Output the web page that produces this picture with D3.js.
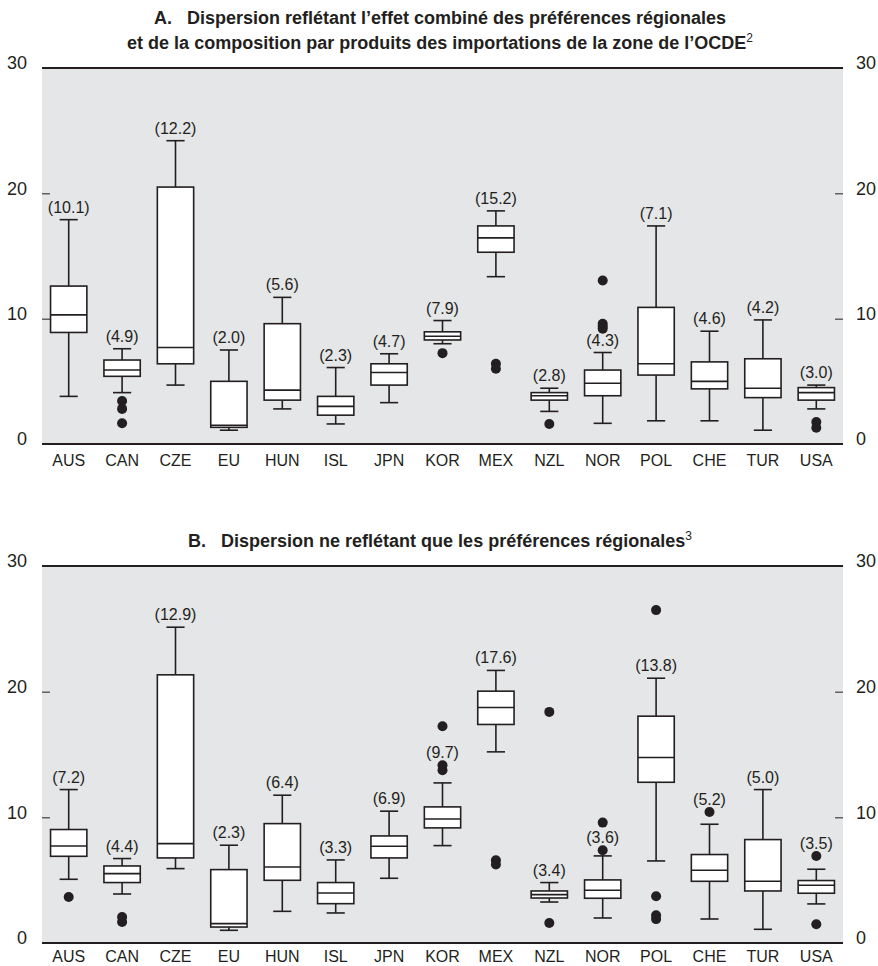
<!DOCTYPE html>
<html><head><meta charset="utf-8">
<script src="https://cdn.jsdelivr.net/npm/d3@7"></script>
<style>
body{margin:0;background:#fff;}
svg text{font-family:"Liberation Sans Narrow","Arial Narrow","Liberation Sans",Arial,sans-serif;fill:#231f20;}
</style></head><body>
<svg id="chart" width="878" height="966"></svg>
<script>
const categories = ["AUS","CAN","CZE","EU","HUN","ISL","JPN","KOR","MEX","NZL","NOR","POL","CHE","TUR","USA"];
const yTicks = [0, 10, 20, 30];

// Panel A
const titleA1 = "A.\u00a0\u00a0\u00a0Dispersion reflétant l’effet combiné des préférences régionales";
const titleA2 = "et de la composition par produits des importations de la zone de l’OCDE";
const noteA = "2";
const lowA    = [3.8, 4.1, 4.7, 1.1, 2.8, 1.6, 3.3, 8.0, 13.35, 2.6, 1.65, 1.85, 1.85, 1.1, 2.8];
const q1A     = [8.9, 5.4, 6.4, 1.33, 3.5, 2.3, 4.7, 8.3, 15.3, 3.5, 3.85, 5.5, 4.4, 3.7, 3.5];
const medianA = [10.3, 5.9, 7.7, 1.5, 4.3, 3.0, 5.7, 8.6, 16.45, 3.85, 4.85, 6.4, 5.0, 4.45, 4.1];
const q3A     = [12.6, 6.7, 20.5, 5.0, 9.6, 3.8, 6.4, 8.95, 17.4, 4.1, 5.9, 10.9, 6.55, 6.8, 4.5];
const highA   = [17.9, 7.6, 24.2, 7.5, 11.7, 6.1, 7.2, 9.85, 18.6, 4.45, 7.3, 17.4, 9.0, 9.9, 4.7];
const outliersA = [[], [3.43, 2.8, 1.65], [], [], [], [], [], [7.25], [6.4, 6.0], [1.6],
                   [13.05, 9.6, 9.4, 9.2], [], [], [], [1.75, 1.3]];
const labelsA = ["(10.1)","(4.9)","(12.2)","(2.0)","(5.6)","(2.3)","(4.7)","(7.9)","(15.2)","(2.8)","(4.3)","(7.1)","(4.6)","(4.2)","(3.0)"];

// Panel B
const titleB = "B.\u00a0\u00a0\u00a0Dispersion ne reflétant que les préférences régionales";
const noteB = "3";
const lowB    = [5.07, 3.9, 5.92, 1.01, 2.52, 2.39, 5.15, 7.75, 15.21, 3.26, 1.99, 6.53, 1.91, 1.09, 3.11];
const q1B     = [6.9, 4.81, 6.77, 1.27, 4.99, 3.13, 6.77, 9.16, 17.39, 3.58, 3.56, 12.79, 4.91, 4.14, 3.96];
const medianB = [7.72, 5.52, 7.91, 1.54, 6.05, 3.98, 7.7, 9.87, 18.74, 3.85, 4.2, 14.76, 5.79, 4.91, 4.59];
const q3B     = [9.03, 6.13, 21.34, 5.84, 9.5, 4.81, 8.52, 10.83, 20.04, 4.14, 5.02, 18.05, 7.04, 8.23, 4.97];
const highB   = [12.21, 6.72, 25.13, 7.78, 11.76, 6.61, 10.49, 12.74, 21.69, 4.81, 6.93, 21.07, 9.45, 12.21, 5.87];
const outliersB = [[3.66], [2.07, 1.67], [], [], [], [], [], [17.25, 14.15, 13.75], [6.58, 6.24], [18.39, 1.59],
                   [9.58, 7.38], [26.49, 3.72, 2.2, 1.9], [10.43], [], [6.93, 1.49]];
const labelsB = ["(7.2)","(4.4)","(12.9)","(2.3)","(6.4)","(3.3)","(6.9)","(9.7)","(17.6)","(3.4)","(3.6)","(13.8)","(5.2)","(5.0)","(3.5)"];

const ink = "#231f20";
const svg = d3.select("#chart");
const x = d3.scaleBand().domain(categories).range([42, 843]).padding(0);

function panel(cfg) {
  const y = d3.scaleLinear().domain([0, 30]).range([cfg.bottom, cfg.top]);
  const g = svg.append("g");
  g.append("rect").attr("x", 42).attr("y", cfg.top).attr("width", 801).attr("height", cfg.bottom - cfg.top).attr("fill", "#e5e6e8");

  const yl = g.append("g").attr("transform", "translate(42,0)")
    .call(d3.axisLeft(y).tickValues(yTicks).tickSize(-8).tickPadding(15).tickFormat(d3.format("d")));
  const yr = g.append("g").attr("transform", "translate(843,0)")
    .call(d3.axisRight(y).tickValues(yTicks).tickSize(-8).tickPadding(13).tickFormat(d3.format("d")));
  [yl, yr].forEach(a => {
    a.select(".domain").remove();
    a.selectAll("line").attr("stroke", ink).attr("stroke-width", 1);
    a.selectAll("text").attr("font-size", 18).attr("dy", "0.05em").attr("font-family", null);
  });

  const xa = g.append("g").attr("transform", `translate(0,${cfg.bottom})`)
    .call(d3.axisBottom(x).tickSize(0).tickPadding(cfg.catPad));
  xa.select(".domain").remove();
  xa.selectAll("text").attr("font-size", 16).attr("font-family", null);

  g.append("line").attr("x1", 42).attr("x2", 843).attr("y1", cfg.top).attr("y2", cfg.top).attr("stroke", ink).attr("stroke-width", 2);
  g.append("line").attr("x1", 42).attr("x2", 843).attr("y1", cfg.bottom).attr("y2", cfg.bottom).attr("stroke", ink).attr("stroke-width", 2);

  const bw = x.bandwidth() * 0.68, cw = x.bandwidth() * 0.34;
  const data = categories.map((c, i) => ({
    c, lo: cfg.low[i], q1: cfg.q1[i], med: cfg.median[i], q3: cfg.q3[i], hi: cfg.high[i],
    out: cfg.outliers[i], label: cfg.labels[i]
  }));
  const bx = g.selectAll(".box").data(data).join("g").attr("class", "box")
    .attr("transform", d => `translate(${x(d.c) + x.bandwidth() / 2},0)`);
  bx.append("line").attr("x1", 0).attr("x2", 0).attr("y1", d => y(d.hi)).attr("y2", d => y(d.q3)).attr("stroke", ink).attr("stroke-width", 1.6);
  bx.append("line").attr("x1", 0).attr("x2", 0).attr("y1", d => y(d.q1)).attr("y2", d => y(d.lo)).attr("stroke", ink).attr("stroke-width", 1.6);
  bx.append("line").attr("x1", -cw / 2).attr("x2", cw / 2).attr("y1", d => y(d.hi)).attr("y2", d => y(d.hi)).attr("stroke", ink).attr("stroke-width", 1.6);
  bx.append("line").attr("x1", -cw / 2).attr("x2", cw / 2).attr("y1", d => y(d.lo)).attr("y2", d => y(d.lo)).attr("stroke", ink).attr("stroke-width", 1.6);
  bx.append("rect").attr("x", -bw / 2).attr("width", bw).attr("y", d => y(d.q3)).attr("height", d => y(d.q1) - y(d.q3))
    .attr("fill", "#fff").attr("stroke", ink).attr("stroke-width", 1.6);
  bx.append("line").attr("x1", -bw / 2).attr("x2", bw / 2).attr("y1", d => y(d.med)).attr("y2", d => y(d.med)).attr("stroke", ink).attr("stroke-width", 1.6);
  bx.selectAll("circle").data(d => d.out).join("circle").attr("cx", 0).attr("cy", v => y(v)).attr("r", 5).attr("fill", ink);
  bx.append("text").attr("text-anchor", "middle").attr("font-size", 16)
    .attr("y", d => {
      const near = d.out.filter(v => v > d.hi && v - d.hi <= 1.5);
      return y(d3.max([d.hi, ...near])) - 7;
    })
    .text(d => d.label);

  cfg.titles.forEach((t, i) => {
    const tx = g.append("text").attr("x", 440).attr("y", cfg.titleY[i]).attr("text-anchor", "middle")
      .attr("font-size", 18).attr("font-weight", "bold").text(t);
    if (i === cfg.titles.length - 1) {
      tx.append("tspan").attr("font-weight", "normal").attr("font-size", 12).attr("dy", -7).text(cfg.note);
    }
  });
}

panel({top: 68, bottom: 444, low: lowA, q1: q1A, median: medianA, q3: q3A, high: highA, outliers: outliersA, labels: labelsA,
       titles: [titleA1, titleA2], titleY: [24, 49], note: noteA, catPad: 11});
panel({top: 566, bottom: 943, low: lowB, q1: q1B, median: medianB, q3: q3B, high: highB, outliers: outliersB, labels: labelsB,
       titles: [titleB], titleY: [547], note: noteB, catPad: 8});
</script>
</body></html>
